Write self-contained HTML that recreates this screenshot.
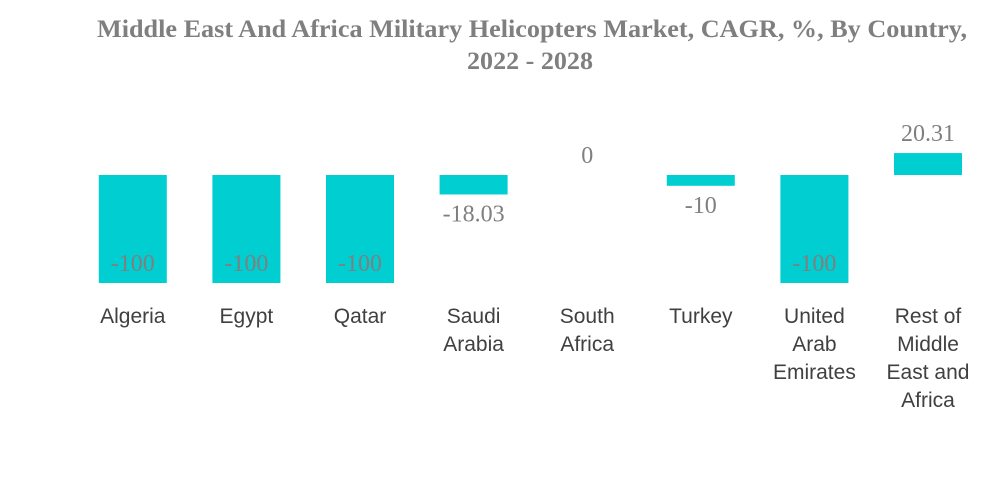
<!DOCTYPE html>
<html><head><meta charset="utf-8"><style>
body{margin:0;background:#fff;width:1000px;height:483px;overflow:hidden}
</style></head><body>
<svg id="chart" width="1000" height="483" xmlns="http://www.w3.org/2000/svg">
<text x="532" y="37" text-anchor="middle" font-family="Liberation Serif, serif" font-weight="bold" font-size="25" fill="#7f7f7f" textLength="870" lengthAdjust="spacingAndGlyphs">Middle East And Africa Military Helicopters Market, CAGR, %, By Country,</text>
<text x="530" y="69" text-anchor="middle" font-family="Liberation Serif, serif" font-weight="bold" font-size="25" fill="#7f7f7f" textLength="126" lengthAdjust="spacingAndGlyphs">2022 - 2028</text>
<g id="bars"></g>
</svg>
<script>
const categories=[["Algeria"],["Egypt"],["Qatar"],["Saudi","Arabia"],["South","Africa"],["Turkey"],["United","Arab","Emirates"],["Rest of","Middle","East and","Africa"]];
const values=[-100,-100,-100,-18.03,0,-10,-100,20.31];
const labels=["-100","-100","-100","-18.03","0","-10","-100","20.31"];
const NS="http://www.w3.org/2000/svg";
const g=document.getElementById('bars');
const x0=76,step=113.6,bw=68,zeroY=175,k=1.08;
const xc=i=>x0+step*i+step/2;
const y=v=>zeroY-v*k;
function mk(t,a){const e=document.createElementNS(NS,t);for(const n in a)e.setAttribute(n,a[n]);g.appendChild(e);return e;}
values.forEach((v,i)=>{
  const top=Math.min(y(v),zeroY),h=Math.abs(y(v)-zeroY);
  const r=mk('rect',{x:xc(i)-bw/2,y:top,width:bw,height:Math.max(h,0.01),fill:'#00CED1'});
  
  
  let ly;
  if(v<=-50) ly=y(v)-12;
  else if(v<0) ly=y(v)+27;
  else ly=y(v)-12;
  const t=mk('text',{x:xc(i),y:ly,'text-anchor':'middle','font-family':'Liberation Serif, serif','font-size':'24',fill:'#7f7f7f'});
  t.textContent=labels[i];
  
  
  categories[i].forEach((line,j)=>{
    const c=mk('text',{x:xc(i),y:323+j*28,'text-anchor':'middle','font-family':'Liberation Sans, sans-serif','font-size':'21',fill:'#404040'});
    c.textContent=line;
    
    
  });
});
</script>
</body></html>
